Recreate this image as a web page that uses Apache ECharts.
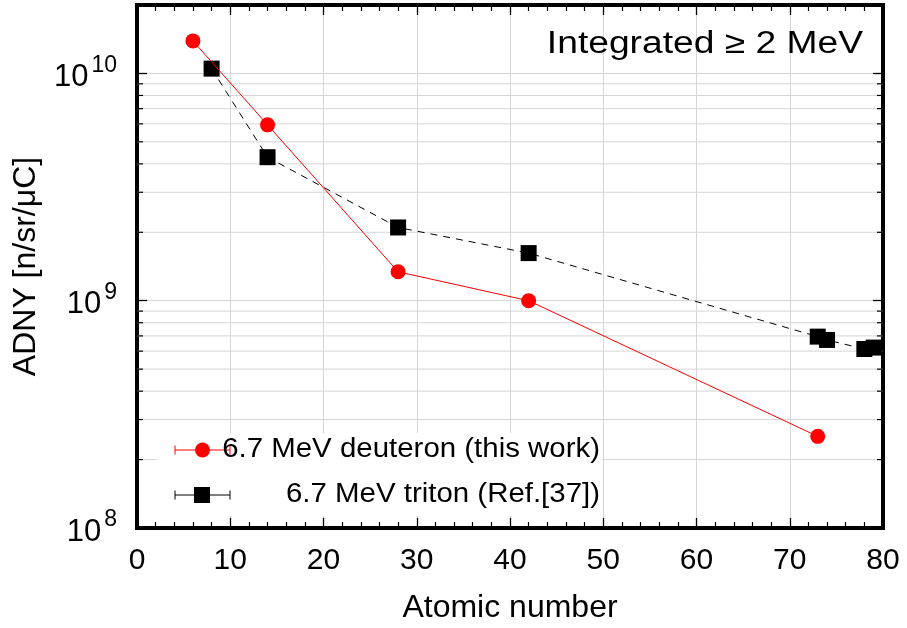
<!DOCTYPE html>
<html>
<head>
<meta charset="utf-8">
<script src="https://cdn.jsdelivr.net/npm/echarts@6/dist/echarts.min.js"></script>
<style>
  html, body { margin: 0; padding: 0; background: #fff; }
  #chart { width: 907px; height: 628px; }
</style>
</head>
<body>
<div id="chart"></div>
<script>
// Atomic number of each target
const deuteronZ = [6, 14, 28, 42, 73];
// Angle-differential neutron yield, integrated above 2 MeV [n/sr/uC]
const deuteronYield = [1.39e10, 5.94e9, 1.34e9, 1.0e9, 2.53e8];

const tritonZ = [8, 14, 28, 42, 73, 74, 78, 79];
const tritonYield = [1.05e10, 4.28e9, 2.10e9, 1.62e9, 6.95e8, 6.72e8, 6.13e8, 6.22e8];

// Intermediate (2..9 x 10^n) gridlines of the log axis
const minorTickValues = [
  2e8, 3e8, 4e8, 5e8, 6e8, 7e8, 8e8, 9e8,
  2e9, 3e9, 4e9, 5e9, 6e9, 7e9, 8e9, 9e9
];

const xMin = 0, xMax = 80, xStep = 10;
const yMin = 1e8, yMax = 2e10;

const FONT = "'Liberation Sans', Arial, Helvetica, sans-serif";
const GRID_COLOR = '#d6d6d6';

const chart = echarts.init(document.getElementById('chart'), null, { renderer: 'canvas' });

function pairs(xs, ys) { return xs.map((x, i) => [x, ys[i]]); }

function powerLabel(v) {
  const e = Math.round(Math.log10(v));
  if (Math.abs(Math.log10(v) - e) > 1e-6) return '';
  return '{b|10}{e|' + e + '}';
}

const frameLine = { show: true, onZero: false, lineStyle: { color: '#000', width: 4, cap: 'square' } };
const majorTick = { show: true, inside: true, length: 10, lineStyle: { color: '#000', width: 1.3 } };
const xMinor = { show: true, splitNumber: 5, length: 6, lineStyle: { color: '#000', width: 1.2 } };

const option = {
  animation: false,
  backgroundColor: '#fff',
  grid: {
    left: 137, right: 24, top: 5, bottom: 100,
    show: false,
    outerBoundsMode: 'none'
  },
  xAxis: [{
    type: 'value', min: xMin, max: xMax, interval: xStep,
    position: 'bottom',
    name: 'Atomic number', nameLocation: 'middle', nameGap: 64,
    nameTextStyle: { fontSize: 32, fontFamily: FONT, color: '#000' },
    axisLine: frameLine,
    axisTick: majorTick,
    minorTick: xMinor,
    axisLabel: { fontSize: 30, fontFamily: FONT, color: '#000', margin: 18 },
    splitLine: { show: true, lineStyle: { color: GRID_COLOR, width: 1 } }
  }, {
    type: 'value', min: xMin, max: xMax, interval: xStep,
    position: 'top',
    axisLine: frameLine,
    axisTick: majorTick,
    minorTick: xMinor,
    axisLabel: { show: false },
    splitLine: { show: false }
  }],
  yAxis: [{
    type: 'log', logBase: 10, min: yMin, max: yMax,
    position: 'left',
    name: 'ADNY [n/sr/\u03bcC]', nameLocation: 'middle', nameGap: 95,
    nameRotate: 90,
    nameTextStyle: { fontSize: 32, fontFamily: FONT, color: '#000' },
    axisLine: frameLine,
    axisTick: majorTick,
    axisLabel: {
      show: true, margin: 20, showMaxLabel: false,
      formatter: powerLabel,
      rich: {
        b: { fontSize: 31, fontFamily: FONT, color: '#000', verticalAlign: 'bottom' },
        e: { fontSize: 23, fontFamily: FONT, color: '#000', verticalAlign: 'bottom', padding: [0, 0, 16, 3] }
      }
    },
    splitLine: { show: true, lineStyle: { color: GRID_COLOR, width: 1 } }
  }, {
    type: 'log', logBase: 10, min: yMin, max: yMax,
    position: 'right',
    axisLine: frameLine,
    axisTick: majorTick,
    axisLabel: { show: false },
    splitLine: { show: false }
  }],
  graphic: [
    {
      type: 'text', x: 863, y: 44, z: 20, scaleX: 1.2,
      style: { text: 'Integrated \u2265 2 MeV', align: 'right', verticalAlign: 'middle', fontSize: 31, fontFamily: FONT, fill: '#000' }
    },
    // legend panel
    { type: 'rect', z: 15, shape: { x: 157, y: 433, width: 445, height: 83 }, style: { fill: '#fff' } },

    { type: 'line', z: 16, shape: { x1: 175, y1: 450, x2: 230, y2: 450 }, style: { stroke: '#ff0000', lineWidth: 1 } },
    { type: 'line', z: 16, shape: { x1: 175, y1: 445.5, x2: 175, y2: 454.5 }, style: { stroke: '#ff0000', lineWidth: 1 } },
    { type: 'line', z: 16, shape: { x1: 230, y1: 445.5, x2: 230, y2: 454.5 }, style: { stroke: '#ff0000', lineWidth: 1 } },
    { type: 'circle', z: 17, shape: { cx: 202.5, cy: 450, r: 7.5 }, style: { fill: '#ff0000' } },
    { type: 'text', z: 18, x: 600, y: 450, scaleX: 1.09,
      style: { text: '6.7 MeV deuteron (this work)', align: 'right', verticalAlign: 'middle', fontSize: 27, fontFamily: FONT, fill: '#000' } },

    { type: 'line', z: 16, shape: { x1: 175, y1: 495, x2: 230, y2: 495 }, style: { stroke: '#000', lineWidth: 1 } },
    { type: 'line', z: 16, shape: { x1: 175, y1: 490.5, x2: 175, y2: 499.5 }, style: { stroke: '#000', lineWidth: 1 } },
    { type: 'line', z: 16, shape: { x1: 230, y1: 490.5, x2: 230, y2: 499.5 }, style: { stroke: '#000', lineWidth: 1 } },
    { type: 'rect', z: 17, shape: { x: 194, y: 487, width: 16, height: 16 }, style: { fill: '#000' } },
    { type: 'text', z: 18, x: 600, y: 495, scaleX: 1.09,
      style: { text: '6.7 MeV triton (Ref.[37])', align: 'right', verticalAlign: 'middle', fontSize: 27, fontFamily: FONT, fill: '#000' } }
  ],
  series: [
    {
      // intermediate log gridlines plus their inner ticks on both sides
      type: 'custom', xAxisIndex: 0, yAxisIndex: 0, z: 1, silent: true,
      data: minorTickValues.map(v => [xMin, v]),
      renderItem: function (params, api) {
        const v = api.value(1);
        const a = api.coord([xMin, v]);
        const b = api.coord([xMax, v]);
        return {
          type: 'group',
          children: [
            { type: 'line', shape: { x1: a[0], y1: a[1], x2: b[0], y2: b[1] }, style: { stroke: GRID_COLOR, lineWidth: 1 } },
            { type: 'line', shape: { x1: a[0], y1: a[1], x2: a[0] + 6, y2: a[1] }, style: { stroke: '#000', lineWidth: 1.2 } },
            { type: 'line', shape: { x1: b[0] - 6, y1: b[1], x2: b[0], y2: b[1] }, style: { stroke: '#000', lineWidth: 1.2 } }
          ]
        };
      }
    },
    {
      name: '6.7 MeV triton (Ref.[37])',
      type: 'line', xAxisIndex: 0, yAxisIndex: 0, z: 3,
      data: pairs(tritonZ, tritonYield),
      symbol: 'rect', symbolSize: 16,
      itemStyle: { color: '#000' },
      lineStyle: { color: '#000', width: 1, type: [7, 6] },
      clip: false
    },
    {
      name: '6.7 MeV deuteron (this work)',
      type: 'line', xAxisIndex: 0, yAxisIndex: 0, z: 4,
      data: pairs(deuteronZ, deuteronYield),
      symbol: 'circle', symbolSize: 15,
      itemStyle: { color: '#ff0000' },
      lineStyle: { color: '#ff0000', width: 1 },
      clip: false
    }
  ]
};

chart.setOption(option);
</script>
</body>
</html>
